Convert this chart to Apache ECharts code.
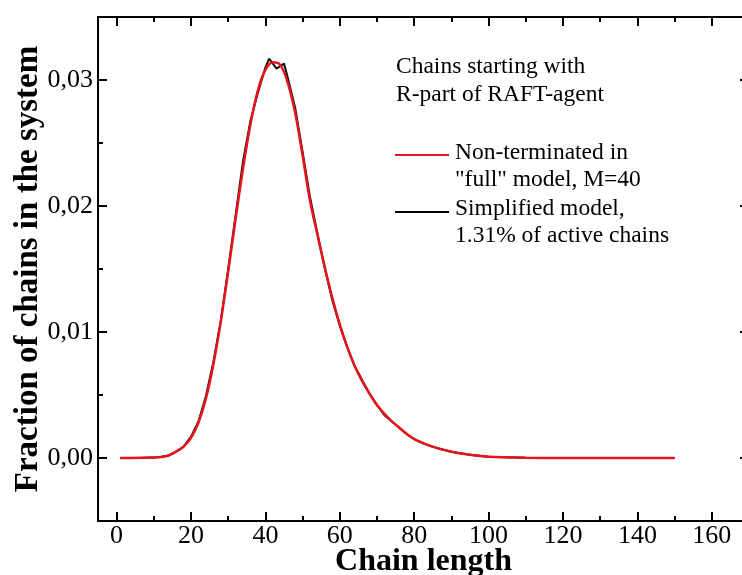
<!DOCTYPE html>
<html>
<head>
<meta charset="utf-8">
<script src="https://cdn.jsdelivr.net/npm/echarts@6/dist/echarts.min.js"></script>
<style>
  html, body { margin: 0; padding: 0; background: #fff; }
  #main { width: 742px; height: 575px; }
</style>
</head>
<body>
<div id="main"></div>
<script type="text/javascript">
    // data
    var fullLength = [1, 4, 7, 10, 12, 14, 16, 18, 20, 22, 24, 26, 28, 30, 32, 34, 36, 38, 40, 42, 44, 46, 48, 50,
        52, 54, 56, 58, 60, 62, 64, 66, 68, 70, 72, 74, 76, 78, 80, 83, 86, 90, 95, 100, 110, 120, 135, 150];
    var fullValues = [0, 0, 0.00001, 0.00003, 0.00008, 0.0002, 0.0005, 0.0009, 0.0016, 0.0028, 0.0047, 0.0074,
        0.0108, 0.0148, 0.0190, 0.0230, 0.0265, 0.0292, 0.0308, 0.0314, 0.0312, 0.0298, 0.0274, 0.0240,
        0.0204, 0.0177, 0.0151, 0.0127, 0.0106, 0.0088, 0.0073, 0.0061, 0.0051, 0.0042, 0.0035, 0.0029,
        0.0024, 0.0019, 0.0015, 0.0011, 0.0008, 0.0005, 0.00025, 0.0001, 0.00002, 0, 0, 0];

    var simpleLength = [1, 4, 7, 10, 12, 14, 16, 18, 20, 22, 24, 26, 28, 30, 32, 34, 36, 38, 40, 41, 43, 45, 46, 48,
        50, 52, 54, 56, 58, 60, 62, 64, 66, 68, 70, 72, 74, 76, 78, 80, 83, 86, 90, 95, 100, 110, 120, 135, 150];
    var simpleValues = [0, 0, 0.00001, 0.00003, 0.0001, 0.0002, 0.0005, 0.0009, 0.0017, 0.0029, 0.0049, 0.0076,
        0.0109, 0.0150, 0.0193, 0.0236, 0.0268, 0.0290, 0.0310, 0.0317, 0.0309, 0.0313, 0.0302, 0.0278,
        0.0243, 0.0207, 0.0178, 0.0150, 0.0125, 0.0105, 0.0088, 0.0073, 0.0062, 0.0051, 0.0042, 0.0034,
        0.0029, 0.0024, 0.0019, 0.0015, 0.0011, 0.0008, 0.0005, 0.00025, 0.0001, 0.00002, 0, 0, 0];

    var xMajor = [0, 20, 40, 60, 80, 100, 120, 140, 160];
    var xMinor = [10, 30, 50, 70, 90, 110, 130, 150];
    var yMajor = [0, 0.01, 0.02, 0.03];
    var yMinor = [0.005, 0.015, 0.025];

    var serif = '"Liberation Serif", "Times New Roman", serif';

    function zip(a, b) {
        var out = [];
        for (var i = 0; i < a.length; i++) out.push([a[i], b[i]]);
        return out;
    }

    // one axis = ticks only (major or minor), the data axis also has line and labels
    function xAx(pos, ticks, len, main) {
        return {
            type: 'value', position: pos, min: -5, max: 170,
            axisLine: { show: main, onZero: false, lineStyle: { color: '#000', width: 2 } },
            axisTick: { inside: true, length: len, customValues: ticks, lineStyle: { color: '#000', width: 2 } },
            axisLabel: { show: false },
            splitLine: { show: false }
        };
    }
    function yAx(pos, ticks, len, main) {
        return {
            type: 'value', position: pos, min: -0.005, max: 0.035,
            axisLine: { show: main, onZero: false, lineStyle: { color: '#000', width: 2 } },
            axisTick: { inside: true, length: len, customValues: ticks, lineStyle: { color: '#000', width: 2 } },
            axisLabel: { show: false },
            splitLine: { show: false }
        };
    }

    var xAxes = [xAx('bottom', xMajor, 9, true), xAx('bottom', xMinor, 5, false),
        xAx('top', xMajor, 9, true), xAx('top', xMinor, 5, false)];
    xAxes[0].axisLabel = {
        show: true, customValues: xMajor, margin: 2,
        fontFamily: serif, fontSize: 26, color: '#000'
    };
    xAxes[0].name = 'Chain length';
    xAxes[0].nameLocation = 'middle';
    xAxes[0].nameGap = 25;
    xAxes[0].nameMoveOverlap = false;
    xAxes[0].nameTextStyle = { fontFamily: serif, fontSize: 32, fontWeight: 'bold', color: '#000' };

    var yAxes = [yAx('left', yMajor, 9, true), yAx('left', yMinor, 5, false),
        yAx('right', yMajor, 9, true), yAx('right', yMinor, 5, false)];
    yAxes[0].axisLabel = {
        show: true, customValues: yMajor, margin: 5,
        fontFamily: serif, fontSize: 26, color: '#000',
        formatter: function (v) { return v.toFixed(2).replace('.', ','); }
    };
    yAxes[0].name = 'Fraction of chains in the system';
    yAxes[0].nameLocation = 'middle';
    yAxes[0].nameGap = 53;
    yAxes[0].nameMoveOverlap = false;
    yAxes[0].nameTextStyle = { fontFamily: serif, fontSize: 33, fontWeight: 'bold', color: '#000' };

    var legendFont = '23.5px ' + serif;
    function label(x, y, t) {
        return { type: 'text', x: x, y: y, style: { text: t, font: legendFont, fill: '#000', verticalAlign: 'middle' } };
    }

    var myChart = echarts.init(document.getElementById('main'));
    var option = {
        animation: false,
        grid: { left: 98, top: 17, width: 651, height: 504, containLabel: false, outerBoundsMode: 'none' },
        xAxis: xAxes,
        yAxis: yAxes,
        series: [{
            name: 'Simplified model',
            type: 'line',
            data: zip(simpleLength, simpleValues),
            showSymbol: false,
            lineStyle: { color: '#111', width: 2 },
            z: 2
        }, {
            name: 'Non-terminated',
            type: 'line',
            data: zip(fullLength, fullValues),
            showSymbol: false,
            smooth: 0.3,
            lineStyle: { color: '#e8141c', width: 2.5 },
            z: 3
        }],
        graphic: [
            label(396, 67, 'Chains starting with'),
            label(396, 95, 'R-part of RAFT-agent'),
            { type: 'line', shape: { x1: 395, y1: 155, x2: 449, y2: 155 }, style: { stroke: '#e8141c', lineWidth: 2 } },
            label(455, 153, 'Non-terminated in'),
            label(455, 180, '"full" model, M=40'),
            { type: 'line', shape: { x1: 395, y1: 212, x2: 449, y2: 212 }, style: { stroke: '#000', lineWidth: 2 } },
            label(455, 209, 'Simplified model,'),
            label(455, 236, '1.31% of active chains')
        ]
    };
    myChart.setOption(option);
</script>
</body>
</html>
